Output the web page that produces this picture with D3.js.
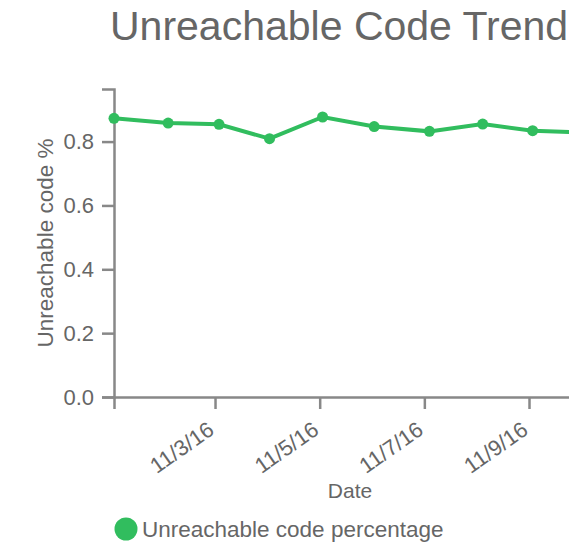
<!DOCTYPE html>
<html lang="en-US">
<head>
<meta charset="UTF-8">
<title>Unreachable Code Trend</title>
<script src="https://d3js.org/d3.v7.min.js"></script>
<style>
  html, body { margin: 0; padding: 0; overflow: hidden; background: #fff; }
  svg { font-family: "Liberation Sans", Arial, sans-serif; }
  .axis path, .axis line { stroke: #888; stroke-width: 2.5px; }
  .axis text { fill: #666; font-size: 22px; }
  .line { fill: none; stroke: #31bd5e; stroke-width: 4px; }
  .dot { fill: #31bd5e; }
  .label { fill: #666; }
</style>
</head>
<body>
<script>

// data
var dates = ["2016-11-01T01:40", "2016-11-02T02:30", "2016-11-03T01:50", "2016-11-04T01:00",
             "2016-11-05T01:20", "2016-11-06T01:00", "2016-11-07T02:20", "2016-11-08T02:45",
             "2016-11-09T01:40", "2016-11-10T02:00"];
var values = [0.873, 0.858, 0.854, 0.809, 0.877, 0.847, 0.832, 0.855, 0.834, 0.828];

var title = "Unreachable Code Trend";
var xLabel = "Date";
var yLabel = "Unreachable code %";
var seriesName = "Unreachable code percentage";

var parse = d3.timeParse("%Y-%m-%dT%H:%M");
var data = dates.map(function(d, i) { return {x: parse(d), y: values[i]}; });

var margin = {top: 89, left: 114},
    dayPx = 52.33,
    xMin = d3.min(data, function(d) { return d.x; }),
    xMax = d3.max(data, function(d) { return d.x; }),
    width = (xMax - xMin) / 864e5 * dayPx,
    height = 308;

var x = d3.scaleTime()
    .domain([xMin, xMax])
    .range([0, width]);

var y = d3.scaleLinear()
    .domain([0, d3.max(values) * 1.1])
    .range([height, 0]);

var svg = d3.select("body").append("svg")
    .attr("width", 700)
    .attr("height", 547);

svg.append("text")
    .attr("class", "label")
    .attr("x", 110)
    .attr("y", 40)
    .style("font-size", "41px")
    .text(title);

var g = svg.append("g")
    .attr("transform", "translate(" + margin.left + "," + margin.top + ")");

var xAxis = g.append("g")
    .attr("class", "axis axis--x")
    .attr("transform", "translate(0," + height + ")")
    .call(d3.axisBottom(x)
        .ticks(d3.timeDay.every(2))
        .tickFormat(d3.timeFormat("%-m/%-d/%y"))
        .tickSize(12)
        .tickSizeOuter(12));

xAxis.selectAll(".tick text")
    .attr("y", 0)
    .attr("dy", 0)
    .attr("transform", "translate(0,36) rotate(-35)")
    .style("text-anchor", "end");

g.append("g")
    .attr("class", "axis axis--y")
    .call(d3.axisLeft(y)
        .ticks(5)
        .tickFormat(d3.format(".1f"))
        .tickSize(12)
        .tickSizeOuter(12)
        .tickPadding(8));

svg.append("text")
    .attr("class", "label")
    .attr("transform", "rotate(-90)")
    .attr("x", -(margin.top + height / 2))
    .attr("y", 53)
    .style("text-anchor", "middle")
    .style("font-size", "22.5px")
    .text(yLabel);

svg.append("text")
    .attr("class", "label")
    .attr("x", 350)
    .attr("y", 498)
    .style("text-anchor", "middle")
    .style("font-size", "21px")
    .text(xLabel);

var line = d3.line()
    .x(function(d) { return x(d.x); })
    .y(function(d) { return y(d.y); });

g.append("path")
    .datum(data)
    .attr("class", "line")
    .attr("d", line);

g.selectAll(".dot")
    .data(data)
    .enter().append("circle")
    .attr("class", "dot")
    .attr("cx", line.x())
    .attr("cy", line.y())
    .attr("r", 5.5);

// legend
var legend = svg.append("g")
    .attr("transform", "translate(126,529)");

legend.append("circle")
    .attr("class", "dot")
    .attr("r", 11.5);

legend.append("text")
    .attr("class", "label")
    .attr("x", 16)
    .attr("y", 7.5)
    .style("font-size", "22.5px")
    .text(seriesName);

</script>
</body>
</html>
